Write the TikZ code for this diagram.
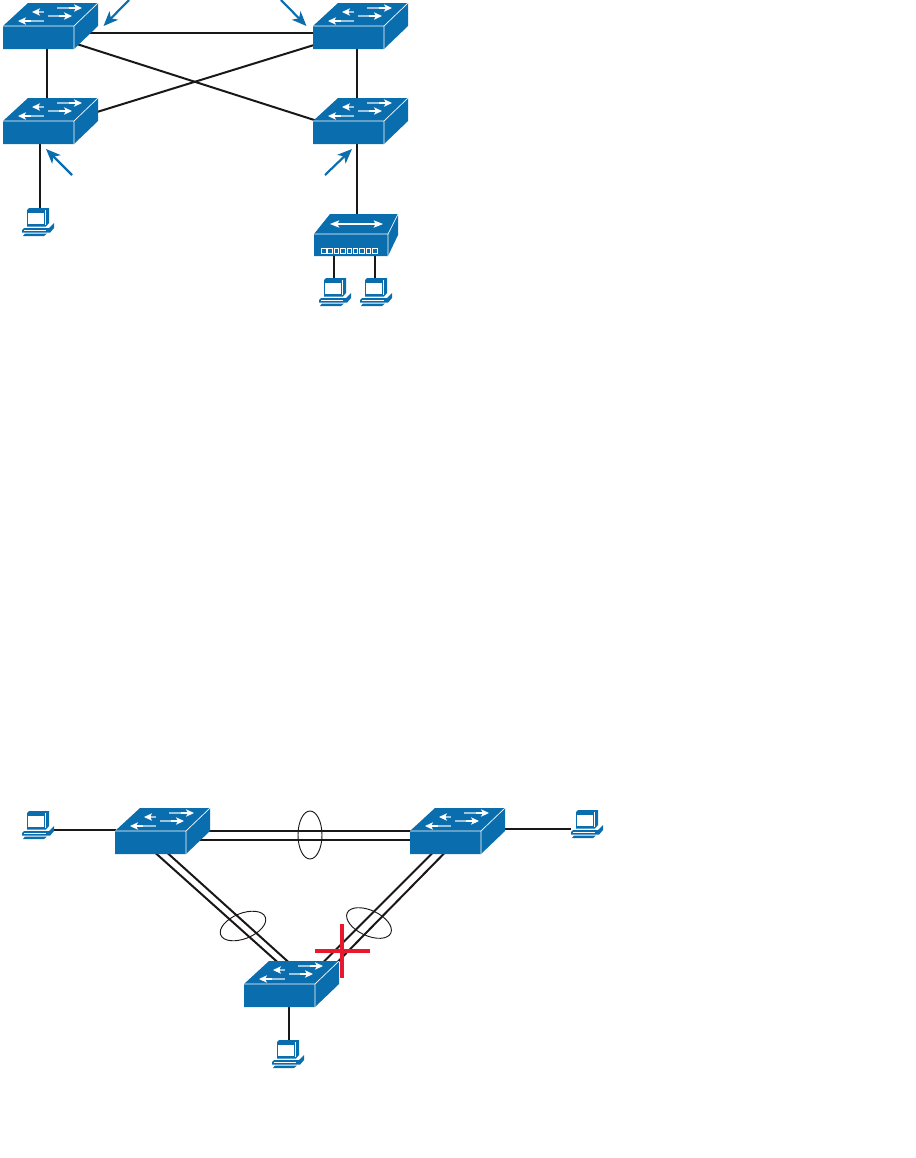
\documentclass[tikz,border=0pt]{standalone}
\usetikzlibrary{calc,arrows.meta,shapes.geometric}
\definecolor{ciscoblue}{HTML}{0A6DAD}
\definecolor{crossred}{HTML}{E8192C}
\definecolor{linkblack}{HTML}{1A1718}
\tikzset{
  link/.style={draw=linkblack,line width=1.5pt},
  callout/.style={draw=ciscoblue,line width=1.6pt,-{Stealth[length=11pt,width=9pt,inset=3pt]}},
  swbox/.style={inner sep=0pt,minimum width=71.25pt,minimum height=34.5pt},
  pcbox/.style={inner sep=0pt,minimum width=24pt,minimum height=21pt},
  hubbox/.style={inner sep=0pt,minimum width=63.75pt,minimum height=31.5pt},
  lag/.style={ellipse,draw=linkblack,line width=0.7pt,inner sep=0pt},
  whitearrow/.style={draw=white,line width=1pt,-{Stealth[length=6pt,width=5.5pt,inset=1.5pt]}},
  switchart/.pic={
    \fill[ciscoblue] (0,23)--(25,0)--(95,0)--(95,23)--(71,46)--(0,46)--cycle;
    \draw[white,line width=0.5pt] (0,23)--(71,23)--(95,0) (71,23)--(71,46);
    \draw[ciscoblue!40!white,line width=1pt] (54,5)--(68,5) (41,9)--(33,9) (45,13)--(58,13) (41,18)--(28,18);
    \draw[whitearrow] (66,5)--(79,5);
    \draw[whitearrow] (35,9)--(29,9);
    \draw[whitearrow] (56,13)--(69,13);
    \draw[whitearrow] (28,18)--(15,18);
  },
  pcart/.pic={
    \fill[ciscoblue] (5,2)--(7,0)--(27,0)--(27,15)--(24,18.5)--(5,18.5)--cycle;
    \fill[white] (5.8,4.5)--(22.3,4.5)--(22.3,16.3)--(5.8,16.3)--cycle;
    \draw[white,line width=0.4pt] (23.7,2)--(23.7,17);
    \fill[ciscoblue] (2,20)--(27,20)--(32,15)--(32,20)--(28,24.7)--(0,24.7)--(0,22)--cycle;
    \fill[white] (2,22)--(24,22)--(24,23)--(2,23)--cycle;
    \fill[ciscoblue] (3,25.5)--(25,25.5)--(22,28)--(1,28)--cycle;
  },
  hubart/.pic={
    \fill[ciscoblue] (0,20)--(16,0)--(84,0)--(84,21)--(74,42)--(0,42)--cycle;
    \draw[white,line width=0.5pt] (0,20)--(74,20)--(84,0) (74,20)--(74,42);
    \draw[white,line width=0.8pt,{Stealth[length=7pt,width=5.5pt,inset=1.5pt]}-{Stealth[length=7pt,width=5.5pt,inset=1.5pt]}] (16,10)--(69,10);
    \foreach \i in {0,...,8}{
      \draw[white,line width=0.6pt] (7.5+\i*6.35,34.5) rectangle ++(4.6,5);
    }
  }
}
\begin{document}
\begin{tikzpicture}[x=0.75pt,y=-0.75pt]
\useasboundingbox (0,0) rectangle (916,1158);
% anchors for the devices
\node[swbox] (s1) at (50.5,26) {};
\node[swbox] (s2) at (360.5,26) {};
\node[swbox] (s3) at (50.5,121) {};
\node[swbox] (s4) at (360.5,121) {};
\node[swbox] (s5) at (162.5,831) {};
\node[swbox] (s6) at (457.5,831) {};
\node[swbox] (s7) at (291.5,984) {};
\node[hubbox] (h1) at (356,235) {};
\node[pcbox] (p1) at (38,222) {};
\node[pcbox] (p2) at (335,292) {};
\node[pcbox] (p3) at (376,292) {};
\node[pcbox] (p4) at (38,825) {};
\node[pcbox] (p5) at (587,824) {};
\node[pcbox] (p6) at (288,1054) {};
\coordinate (a1) at (129,0);
\coordinate (a2) at (281,0);
\coordinate (a3) at (72,175);
\coordinate (a4) at (325,175);
% links upper
\draw[link] ($(s1)+(30,7)$) -- ($(s2)+(-40,7)$);
\draw[link] ($(s1)+(20,16)$) -- ($(s4)+(-40,1)$);
\draw[link] ($(s3)+(40,-7)$) -- ($(s2)+(-40,17)$);
\draw[link] ($(s1)+(-3.5,20)$) -- ($(s3)+(-3.5,-20)$);
\draw[link] ($(s2)+(-3.5,20)$) -- ($(s4)+(-3.5,-20)$);
\draw[link] ($(s3)+(-10.5,20)$) -- ($(p1)+(2,-14)$);
\draw[link] ($(s4)+(-3.5,20)$) -- ($(h1)+(1,-21)$);
\draw[link] ($(h1)+(-22,19)$) -- ($(p2)+(-1,-14)$);
\draw[link] ($(h1)+(19,19)$) -- ($(p3)+(-1,-14)$);
% links lower
\draw[link] ($(p4)+(16,5)$) -- ($(s5)+(-47,-1)$);
\draw[link] ($(s6)+(40,-2)$) -- ($(p5)+(-16,5)$);
\draw[link] ($(s7)+(-2.5,20)$) -- ($(p6)+(1,-14)$);
\draw[link] ($(s5)+(30,0)$) -- ($(s6)+(-40,0)$);
\draw[link] ($(s5)+(30,9)$) -- ($(s6)+(-40,9)$);
\draw[link] ($(s5)+(-7,22)$) -- ($(s7)+(-13,-21)$);
\draw[link] ($(s5)+(5,22)$) -- ($(s7)+(-2,-21)$);
\draw[link] ($(s6)+(-25,22)$) -- ($(s7)+(31,-21)$);
\draw[link] ($(s6)+(-13,22)$) -- ($(s7)+(45,-21)$);
% callouts
\draw[callout] (a1) -- ($(s1)+(53,0)$);
\draw[callout] (a2) -- ($(s2)+(-54,0)$);
\draw[callout] (a3) -- ($(s3)+(-4.5,28)$);
\draw[callout] (a4) -- ($(s4)+(-8.5,28)$);
% device art
\foreach \n in {s1,s2,s3,s4,s5,s6,s7}{
  \pic at ($(\n)+(-47.5,-23)$) {switchart};
}
\pic at ($(h1)+(-42,-21)$) {hubart};
\foreach \n in {p1,p2,p3,p4,p5,p6}{
  \pic at ($(\n)+(-16,-14)$) {pcart};
}
% bundle rings
\node[lag,minimum width=36pt,minimum height=18pt,rotate=90] (e1) at (310,835) {};
\node[lag,minimum width=36pt,minimum height=19pt,rotate=22] (e2) at (243,926) {};
\node[lag,minimum width=36pt,minimum height=19pt,rotate=-25] (e3) at (369,923) {};
% failure mark
\coordinate (c1) at (315,951);
\coordinate (c2) at (370,951);
\coordinate (c3) at (342,924);
\coordinate (c4) at (342,978);
\draw[crossred,line width=2.8pt] (c1) -- (c2) (c3) -- (c4);
\end{tikzpicture}
\end{document}
